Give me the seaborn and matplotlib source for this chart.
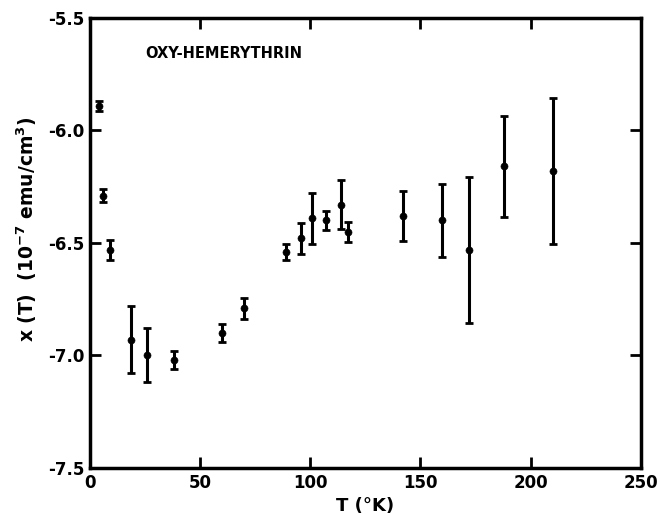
import numpy as np
import matplotlib
matplotlib.use("Agg")
import matplotlib.pyplot as plt
import seaborn as sns

# temperature (K), susceptibility (1e-7 emu/cm^3), error bar half-widths
temp = [4.0, 6.0, 9.4, 18.5, 26.0, 38.0, 60.0, 70.0, 89.0, 96.0, 101.0, 107.0,
        114.0, 117.0, 142.0, 160.0, 172.0, 188.0, 210.0]
chi = [-5.89, -6.29, -6.53, -6.93, -7.00, -7.02, -6.90, -6.79, -6.54, -6.48, -6.39,
       -6.40, -6.33, -6.45, -6.38, -6.40, -6.53, -6.16, -6.18]
err = [0.022, 0.028, 0.044, 0.15, 0.12, 0.042, 0.041, 0.047, 0.036, 0.071, 0.113,
       0.042, 0.11, 0.044, 0.11, 0.164, 0.324, 0.223, 0.325]

xticks = [0, 50, 100, 150, 200, 250]
yticks = [-7.5, -7.0, -6.5, -6.0, -5.5]

sns.set_style("ticks")
plt.rcParams['font.family'] = ['DejaVu Sans']
plt.rcParams['font.weight'] = 'bold'
plt.rcParams['axes.unicode_minus'] = False
plt.rcParams['text.color'] = 'black'
plt.rcParams['axes.labelcolor'] = 'black'
plt.rcParams['xtick.color'] = 'black'
plt.rcParams['ytick.color'] = 'black'
plt.rcParams['axes.edgecolor'] = 'black'

fig = plt.figure(figsize=(6.6, 5.14), dpi=100)
ax = fig.add_axes([0.136, 0.0895, 0.835, 0.8755])

ax.errorbar(temp, chi, yerr=err, fmt='none', ecolor='black', elinewidth=2.2,
            capsize=3, capthick=2)
sns.scatterplot(x=temp, y=chi, ax=ax, color='black', s=26, edgecolor='black', zorder=3)

ax.set_xlim(0, 250)
ax.set_ylim(-7.5, -5.5)
ax.set_xticks(xticks)
ax.set_yticks(yticks)
ax.set_xticklabels([str(v) for v in xticks], fontsize=12, fontweight='bold')
ax.set_yticklabels([f"{v:.1f}" for v in yticks], fontsize=12, fontweight='bold')
ax.tick_params(direction='in', length=8, width=2, top=True, right=True, pad=4)
for s in ax.spines.values():
    s.set_linewidth(2.5)

ax.set_xlabel("T (°K)", fontsize=13, fontweight='bold', labelpad=4)
ax.set_ylabel("x (T)  (10$^{-7}$ emu/cm$^3$)", fontsize=13.5, fontweight='bold')
ax.yaxis.set_label_coords(-0.092, 0.53)
ax.text(25, -5.656, "OXY-HEMERYTHRIN", fontsize=10.5, fontweight='bold', va='center')

fig.savefig("out.png", dpi=100)
